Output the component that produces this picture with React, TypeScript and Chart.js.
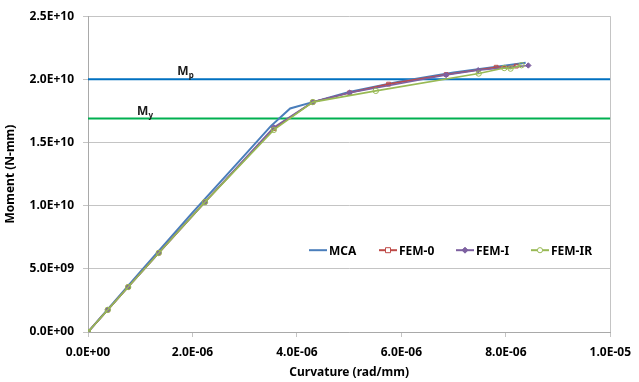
import React, { useEffect, useRef } from "react";
import { Chart, registerables } from "chart.js";

Chart.register(...registerables);

// Moment–curvature results (curvature in rad/mm, moment in N-mm)
const curvatureMCA = [0, 1.0e-6, 2.0e-6, 3.0e-6, 3.5e-6, 3.87e-6, 4.3e-6, 5.0e-6, 6.0e-6, 7.0e-6, 8.0e-6, 8.38e-6];
const momentMCA = [0, 4.75e9, 9.45e9, 14.0e9, 16.3e9, 17.7e9, 18.2e9, 19.0e9, 19.85e9, 20.55e9, 21.1e9, 21.32e9];

const curvatureFEM0 = [0, 0.378e-6, 0.769e-6, 1.355e-6, 2.238e-6, 3.557e-6, 4.304e-6, 5.01e-6, 5.755e-6, 6.857e-6, 7.815e-6, 8.2e-6];
const momentFEM0 = [0, 1.75e9, 3.56e9, 6.26e9, 10.28e9, 16.1e9, 18.2e9, 18.94e9, 19.62e9, 20.38e9, 20.96e9, 21.05e9];

const curvatureFEMI = [0, 0.378e-6, 0.769e-6, 1.355e-6, 2.238e-6, 3.557e-6, 4.304e-6, 5.01e-6, 6.857e-6, 7.47e-6, 8.43e-6];
const momentFEMI = [0, 1.75e9, 3.56e9, 6.26e9, 10.28e9, 16.2e9, 18.2e9, 18.94e9, 20.35e9, 20.72e9, 21.1e9];

const curvatureFEMIR = [0, 0.378e-6, 0.769e-6, 1.355e-6, 2.238e-6, 3.557e-6, 4.304e-6, 5.51e-6, 7.48e-6, 7.97e-6, 8.09e-6, 8.3e-6];
const momentFEMIR = [0, 1.75e9, 3.56e9, 6.26e9, 10.28e9, 16.0e9, 18.2e9, 19.09e9, 20.46e9, 20.9e9, 20.85e9, 21.12e9];

// Reference moments
const plasticMoment = 2.0e10;
const yieldMoment = 1.69e10;

const seriesNames = ["MCA", "FEM-0", "FEM-I", "FEM-IR"];
const seriesColors = ["#4A7EBB", "#BE4B48", "#7D60A0", "#98B954"];
const plasticColor = "#0070C0";
const yieldColor = "#00B050";

const FONT = "'Noto Sans', 'DejaVu Sans', sans-serif";

const toPoints = (xs: number[], ys: number[]) => xs.map((x, i) => ({ x, y: ys[i] }));

// Excel-style scientific notation: 2.5E+10, 4.0E-06
function sci(v: number): string {
  if (Math.abs(v) < 1e-30) return "0.0E+00";
  const [m, e] = v.toExponential(1).split("e");
  const sign = e[0] === "-" ? "-" : "+";
  const digits = e.replace(/[+-]/, "").padStart(2, "0");
  return `${m}E${sign}${digits}`;
}

const pointStyles = ["circle", "rect", "rectRot", "circle"];
const pointFills = ["#4A7EBB", "rgba(255,255,255,0)", "#7D60A0", "rgba(255,255,255,0)"];

// Legend drawn inside the plot area, in one row
const legendPlugin = {
  id: "insideLegend",
  afterDraw(chart: any) {
    const { ctx, chartArea } = chart;
    const offsets = [221, 291, 368, 443];
    const y = chartArea.top + 234;
    ctx.save();
    ctx.font = `bold 12px ${FONT}`;
    ctx.textBaseline = "middle";
    ctx.textAlign = "left";
    seriesNames.forEach((name, i) => {
      const x0 = chartArea.left + offsets[i];
      const color = seriesColors[i];
      ctx.strokeStyle = color;
      ctx.lineWidth = 2;
      ctx.beginPath();
      ctx.moveTo(x0, y);
      ctx.lineTo(x0 + 18, y);
      ctx.stroke();
      if (i > 0) {
        const cx = x0 + 9;
        ctx.lineWidth = 1;
        ctx.fillStyle = i === 2 ? color : "#ffffff";
        ctx.beginPath();
        if (i === 1) {
          ctx.rect(cx - 2.5, y - 2.5, 5, 5);
        } else if (i === 2) {
          ctx.moveTo(cx, y - 3);
          ctx.lineTo(cx + 3, y);
          ctx.lineTo(cx, y + 3);
          ctx.lineTo(cx - 3, y);
          ctx.closePath();
        } else {
          ctx.arc(cx, y, 2.6, 0, Math.PI * 2);
        }
        ctx.fill();
        ctx.stroke();
      }
      ctx.fillStyle = "#000000";
      ctx.fillText(name, x0 + 20, y + 1);
    });
    ctx.restore();
  },
};

// "Mp" and "My" labels sitting just above their reference lines
const momentLabelPlugin = {
  id: "momentLabels",
  afterDatasetsDraw(chart: any) {
    const { ctx, scales } = chart;
    const labels = [
      { sub: "p", x: 1.71e-6, y: plasticMoment },
      { sub: "y", x: 0.94e-6, y: yieldMoment },
    ];
    ctx.save();
    ctx.fillStyle = "#1a1a1a";
    ctx.textBaseline = "alphabetic";
    ctx.textAlign = "left";
    labels.forEach((l) => {
      const px = scales.x.getPixelForValue(l.x);
      const py = scales.y.getPixelForValue(l.y) - 4;
      ctx.font = `bold 12px ${FONT}`;
      ctx.fillText("M", px, py);
      const w = ctx.measureText("M").width;
      ctx.font = `bold 8px ${FONT}`;
      ctx.fillText(l.sub, px + w, py + 3);
    });
    ctx.restore();
  },
};

export default function App() {
  const canvasRef = useRef<HTMLCanvasElement | null>(null);

  useEffect(() => {
    if (!canvasRef.current) return;
    const seriesX = [curvatureMCA, curvatureFEM0, curvatureFEMI, curvatureFEMIR];
    const seriesY = [momentMCA, momentFEM0, momentFEMI, momentFEMIR];

    const curveSets = seriesNames.map((name, i) => ({
      label: name,
      data: toPoints(seriesX[i], seriesY[i]),
      showLine: true,
      borderColor: seriesColors[i],
      backgroundColor: pointFills[i],
      borderWidth: i === 0 ? 2 : 1.6,
      pointRadius: i === 0 ? 0 : 2.7,
      pointBorderWidth: 1,
      pointStyle: pointStyles[i],
      pointBorderColor: seriesColors[i],
      pointBackgroundColor: pointFills[i],
      order: 4 - i,
    }));

    const refSets = [
      { label: "Mp", value: plasticMoment, color: plasticColor },
      { label: "My", value: yieldMoment, color: yieldColor },
    ].map((r) => ({
      label: r.label,
      data: [
        { x: 0, y: r.value },
        { x: 1e-5, y: r.value },
      ],
      showLine: true,
      borderColor: r.color,
      borderWidth: 2,
      pointRadius: 0,
      order: 10,
    }));

    const gridColor = "#C4C4C4";

    const chart = new Chart(canvasRef.current, {
      type: "scatter",
      data: { datasets: [...curveSets, ...refSets] as any },
      options: {
        animation: false,
        responsive: false,
        devicePixelRatio: 1,
        layout: { padding: { top: 14, right: 22, left: 0, bottom: 0 } },
        plugins: {
          legend: { display: false },
          tooltip: { enabled: false },
        },
        scales: {
          x: {
            type: "linear",
            min: 0,
            max: 1e-5,
            afterFit: (s: any) => {
              s.height = 50;
            },
            ticks: {
              stepSize: 2e-6,
              padding: 8,
              color: "#000000",
              font: { family: FONT, size: 12, weight: "bold" },
              callback: (v: any) => sci(Number(v)),
            },
            grid: {
              drawOnChartArea: true,
              tickLength: 5,
              color: (c: any) => (c.tick && c.tick.value > 9.9e-6 ? gridColor : "rgba(0,0,0,0)"),
              tickColor: gridColor,
            },
            border: { color: "#A9A9A9", width: 1 },
            title: {
              display: true,
              text: "Curvature (rad/mm)",
              color: "#000000",
              font: { family: FONT, size: 12, weight: "bold" },
              padding: { top: 0, bottom: 2 },
            },
          },
          y: {
            type: "linear",
            min: 0,
            max: 2.5e10,
            afterFit: (s: any) => {
              s.width = 88;
            },
            ticks: {
              stepSize: 5e9,
              padding: 9,
              color: "#000000",
              font: { family: FONT, size: 12, weight: "bold" },
              callback: (v: any) => sci(Number(v)),
            },
            grid: {
              color: gridColor,
              tickLength: 5,
              tickColor: gridColor,
            },
            border: { color: "#A9A9A9", width: 1 },
            title: {
              display: true,
              text: "Moment (N-mm)",
              color: "#000000",
              font: { family: FONT, size: 12, weight: "bold" },
              padding: { top: 3, bottom: 0 },
            },
          },
        },
      },
      plugins: [momentLabelPlugin, legendPlugin],
    });

    return () => chart.destroy();
  }, []);

  return (
    <div style={{ position: "fixed", left: 0, top: 0, width: 639, height: 382, background: "#ffffff" }}>
      <canvas ref={canvasRef} width={639} height={382} style={{ display: "block" }} />
    </div>
  );
}
